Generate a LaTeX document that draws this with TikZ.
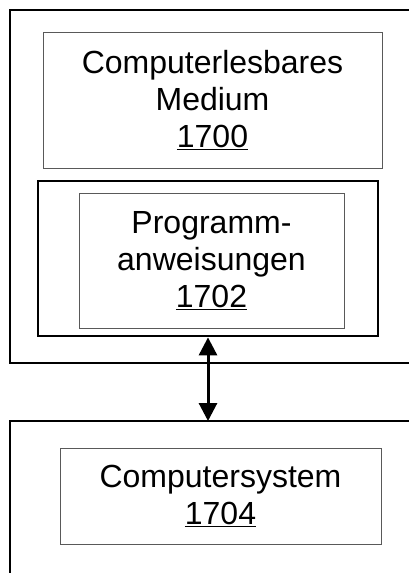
\documentclass[tikz,border=0pt]{standalone}
\usepackage{fontspec}
\setmainfont{Liberation Sans}
\usetikzlibrary{positioning,arrows.meta}

\begin{document}
\begin{tikzpicture}[x=1pt, y=-1pt,
  frame/.style={line width=2.2pt},
  thickbox/.style={draw, line width=2.8pt, inner sep=0pt},
  textbox/.style={draw=black!65, line width=1pt, align=center, inner sep=0pt,
    font=\fontsize{32}{37}\selectfont}]
\useasboundingbox (0,0) rectangle (408,573);
% upper frame: medium with its program
\draw[frame] (412,10) -- (10,10) -- (10,363) -- (412,363);
\node[textbox, minimum width=339pt, minimum height=136pt] (medium) at (212.5,100)
  {Computerlesbares\\Medium\\\underline{1700}};
\node[thickbox, minimum width=340pt, minimum height=155pt] (progframe) at (208,258.5) {};
\node[textbox, minimum width=265pt, minimum height=135pt] (prog) at (211.5,260.5)
  {Programm-\\anweisungen\\\underline{1702}};
% lower frame: computer system
\draw[frame] (412,421) -- (10,421) -- (10,580);
\coordinate (systop) at (208,421);
\node[textbox, minimum width=321pt, minimum height=96pt] (system) at (220.5,496)
  {Computersystem\\\underline{1704}};
% link between the two
\draw[line width=3pt, {Triangle[length=18pt,width=18pt]}-{Triangle[length=18pt,width=18pt]}]
  (progframe.south) -- (systop);
\end{tikzpicture}
\end{document}
